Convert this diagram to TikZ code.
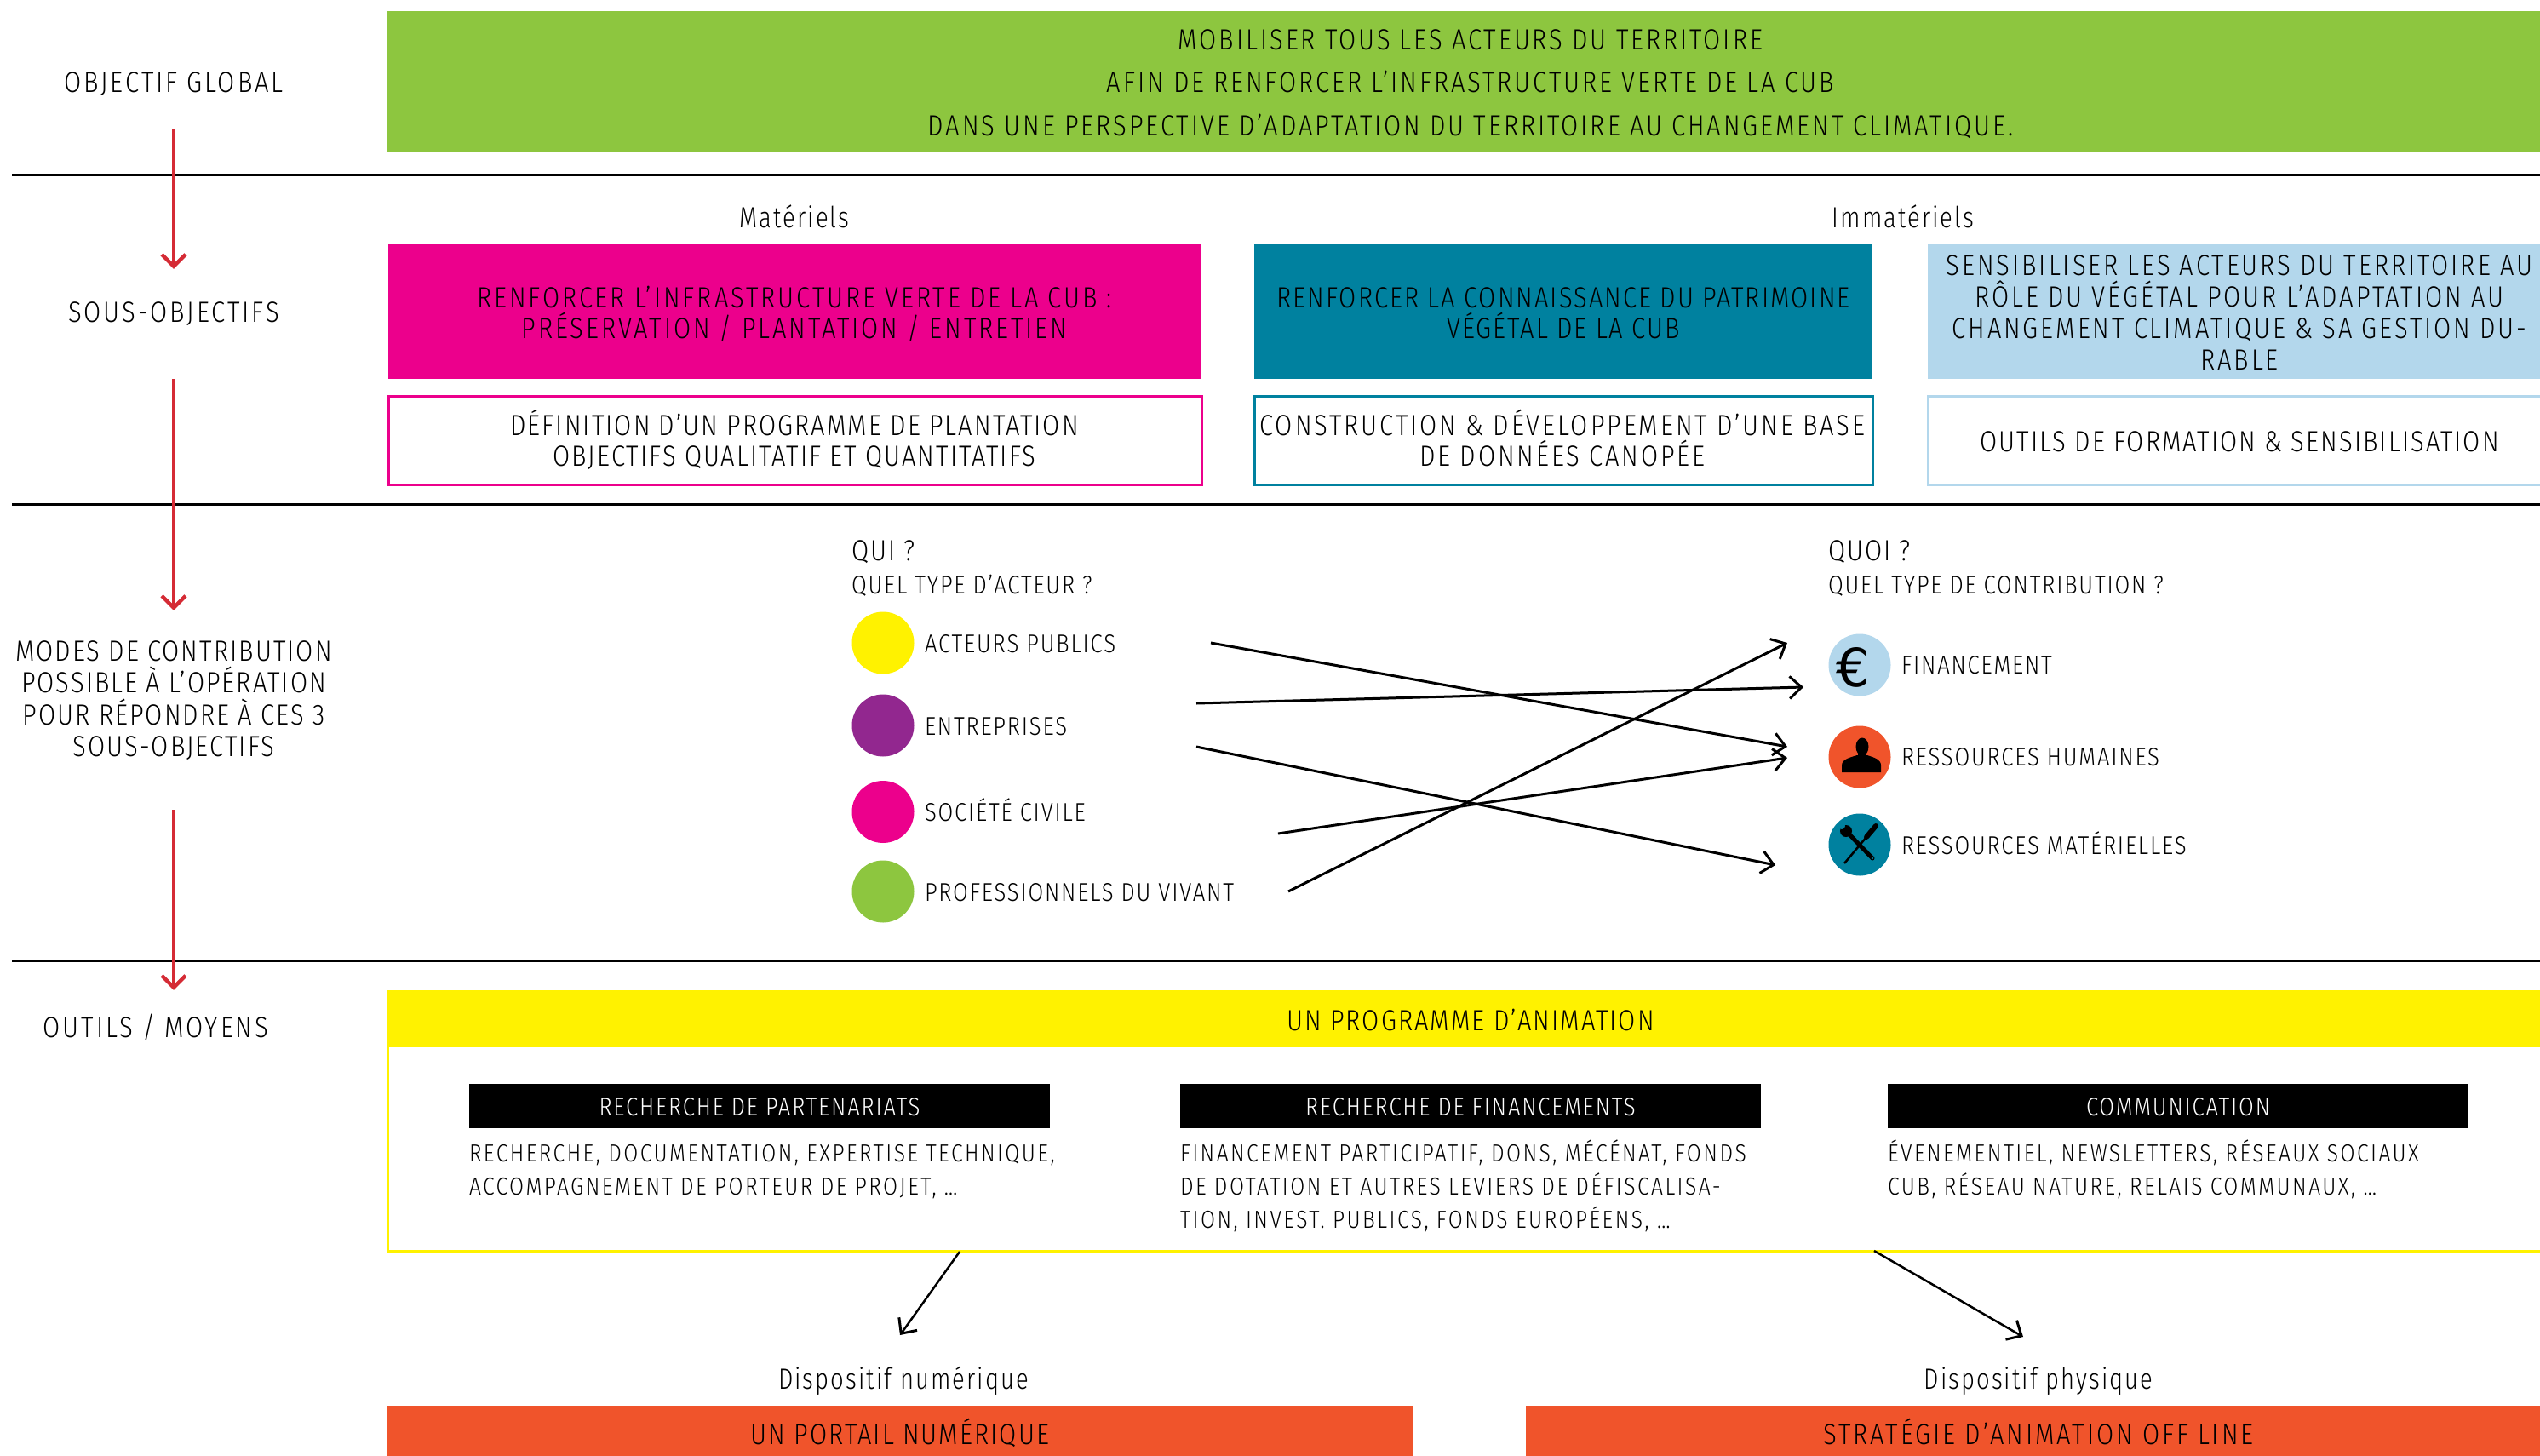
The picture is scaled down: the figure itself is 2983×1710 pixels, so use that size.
\documentclass[tikz,border=0pt]{standalone}
\usepackage{fontspec}
\setmainfont{Fira Sans}[UprightFont=* Light,FakeStretch=0.85,LetterSpace=6]
\newfontfamily\boxfont{Fira Sans}[UprightFont=* Light,FakeStretch=0.85,LetterSpace=8.5]
\newfontfamily\lcfont{Fira Sans}[UprightFont=* Light,FakeStretch=0.8,LetterSpace=6]
\newfontfamily\iconfont{DejaVu Sans}
\usetikzlibrary{arrows.meta}
\definecolor{cgreen}{HTML}{8DC63F}
\definecolor{cpink}{HTML}{EC008C}
\definecolor{cteal}{HTML}{00819F}
\definecolor{clblue}{HTML}{B3D7EC}
\definecolor{cyellow}{HTML}{FFF200}
\definecolor{corange}{HTML}{F0542B}
\definecolor{cpurple}{HTML}{92278F}
\definecolor{cred}{HTML}{D52B35}
\newcommand\mlines[2]{\vtop{\lineskiplimit=-1000pt\lineskip=0pt\baselineskip=#1bp\halign{\hfil##\hfil\cr#2\crcr}}}
\newcommand\llines[2]{\vtop{\lineskiplimit=-1000pt\lineskip=0pt\baselineskip=#1bp\halign{##\hfil\cr#2\crcr}}}
\begin{document}
\begin{tikzpicture}[x=1bp,y=-1bp,
  txt/.style={inner sep=0pt,outer sep=0pt},
  big/.style={font=\fontsize{34.3bp}{40bp}\selectfont},
  bigbox/.style={font=\boxfont\fontsize{34.3bp}{40bp}\selectfont},
  biglc/.style={font=\lcfont\fontsize{34.3bp}{40bp}\selectfont},
  small/.style={font=\fontsize{30.2bp}{36bp}\selectfont},
  tiny/.style={font=\boxfont\fontsize{29bp}{35bp}\selectfont},
  areabox/.style={draw=none,inner sep=0pt,outer sep=0pt,anchor=north west},
  outlinebox/.style={inner sep=0pt,outer sep=0pt,anchor=north west,line width=3bp,fill=white},
  blackbox/.style={areabox,fill=black,minimum width=682bp,minimum height=52bp},
  disc/.style={circle,draw=none,inner sep=0pt,outer sep=0pt,minimum size=73bp},
  sepline/.style={line width=3bp,black},
  redarrow/.style={draw=cred,line width=4bp,-{Straight Barb[length=14bp,width=28bp,line width=4.5bp]}},
  blackarrow/.style={line width=3bp,-{Straight Barb[length=14bp,width=26bp,line width=3bp]}},
]
\path[use as bounding box,fill=white] (0,0) rectangle (2983,1710);

% separator lines
\draw[sepline] (14,205) -- (2983,205);
\draw[sepline] (14,592) -- (2983,592);
\draw[sepline] (14,1128) -- (2983,1128);

% left column labels
\node[txt,bigbox,anchor=base] (objglobal) at (204,108) {OBJECTIF GLOBAL};
\node[txt,bigbox,anchor=base] (sousobj) at (204,378) {SOUS-OBJECTIFS};
\node[txt,big,anchor=base] (modes) at (204,776) {\mlines{37.5}{MODES DE CONTRIBUTION\cr POSSIBLE À L’OPÉRATION\cr POUR RÉPONDRE À CES 3\cr SOUS-OBJECTIFS}};
\node[txt,bigbox,anchor=base] (outils) at (183,1218) {OUTILS / MOYENS};

% red arrows
\coordinate (r1s) at (204,151); \coordinate (r1e) at (204,316);
\coordinate (r2s) at (204,445); \coordinate (r2e) at (204,717);
\coordinate (r3s) at (204,951); \coordinate (r3e) at (204,1163);
\draw[redarrow] (r1s) -- (r1e);
\draw[redarrow] (r2s) -- (r2e);
\draw[redarrow] (r3s) -- (r3e);

% global objective
\node[areabox,fill=cgreen,minimum width=2540bp,minimum height=166bp] (global) at (455,13) {};
\node[txt,bigbox,anchor=base] (globaltxt) at (1727,58) {\mlines{50.5}{MOBILISER TOUS LES ACTEURS DU TERRITOIRE\cr AFIN DE RENFORCER L’INFRASTRUCTURE VERTE DE LA CUB\cr DANS UNE PERSPECTIVE D’ADAPTATION DU TERRITOIRE AU CHANGEMENT CLIMATIQUE.}};

% sub-objectives
\node[txt,biglc,anchor=base] (mat) at (933,267) {Matériels};
\node[txt,biglc,anchor=base] (immat) at (2235,267) {Immatériels};

\node[areabox,fill=cpink,minimum width=955bp,minimum height=158bp] (so1) at (456,287) {};
\node[areabox,fill=cteal,minimum width=726bp,minimum height=158bp] (so2) at (1473,287) {};
\node[areabox,fill=clblue,minimum width=740bp,minimum height=158bp] (so3) at (2264,287) {};
\node[txt,bigbox,anchor=base] (so1t) at (933,361) {\mlines{36.5}{RENFORCER L’INFRASTRUCTURE VERTE DE LA CUB :\cr PRÉSERVATION / PLANTATION / ENTRETIEN}};
\node[txt,big,anchor=base] (so2t) at (1836,361) {\mlines{36.5}{RENFORCER LA CONNAISSANCE DU PATRIMOINE\cr VÉGÉTAL DE LA CUB}};
\node[txt,bigbox,anchor=base] (so3t) at (2630,323) {\mlines{37}{SENSIBILISER LES ACTEURS DU TERRITOIRE AU\cr RÔLE DU VÉGÉTAL POUR L’ADAPTATION AU\cr CHANGEMENT CLIMATIQUE \& SA GESTION DU-\cr RABLE}};

\node[outlinebox,draw=cpink,minimum width=955bp,minimum height=104bp] (ac1) at (456,465) {};
\node[outlinebox,draw=cteal,minimum width=726bp,minimum height=104bp] (ac2) at (1473,465) {};
\node[outlinebox,draw=clblue,minimum width=740bp,minimum height=104bp] (ac3) at (2264,465) {};
\node[txt,big,anchor=base] (ac1t) at (933,511) {\mlines{36}{DÉFINITION D’UN PROGRAMME DE PLANTATION\cr OBJECTIFS QUALITATIF ET QUANTITATIFS}};
\node[txt,bigbox,anchor=base] (ac2t) at (1835,511) {\mlines{36}{CONSTRUCTION \& DÉVELOPPEMENT D’UNE BASE\cr DE DONNÉES CANOPÉE}};
\node[txt,big,anchor=base] (ac3t) at (2630,530) {OUTILS DE FORMATION \& SENSIBILISATION};

% who / what
\node[txt,big,anchor=base west] (qui) at (1000,658) {QUI ?};
\node[txt,small,anchor=base west] (quisub) at (1000,697) {QUEL TYPE D’ACTEUR ?};
\node[txt,big,anchor=base west] (quoi) at (2147,658) {QUOI ?};
\node[txt,small,anchor=base west] (quoisub) at (2147,697) {QUEL TYPE DE CONTRIBUTION ?};

\node[disc,fill=cyellow] (pub) at (1037,755) {};
\node[disc,fill=cpurple] (ent) at (1037,852) {};
\node[disc,fill=cpink] (civ) at (1037,953.5) {};
\node[disc,fill=cgreen] (pro) at (1037,1047) {};
\node[txt,small,anchor=base west] (publ) at (1086,766) {ACTEURS PUBLICS};
\node[txt,small,anchor=base west] (entl) at (1086,863) {ENTREPRISES};
\node[txt,small,anchor=base west] (civl) at (1086,964) {SOCIÉTÉ CIVILE};
\node[txt,small,anchor=base west] (prol) at (1086,1058) {PROFESSIONNELS DU VIVANT};

\node[disc,fill=clblue] (fin) at (2184,781) {};
\node[disc,fill=corange] (rh) at (2184,889) {};
\node[disc,fill=cteal] (rm) at (2184,992) {};
\node[txt,small,anchor=base west] (finl) at (2233,791) {FINANCEMENT};
\node[txt,small,anchor=base west] (rhl) at (2233,899) {RESSOURCES HUMAINES};
\node[txt,small,anchor=base west] (rml) at (2233,1003) {RESSOURCES MATÉRIELLES};

% icons
\node[txt,font=\iconfont\fontsize{62bp}{62bp}\selectfont] (euro) at (2176,784) {€};
\fill (2187,877) ellipse [x radius=7.5bp,y radius=10.5bp];
\fill (2182,882) rectangle (2192,890);
\fill (2163,907) -- (2163,899) .. controls (2163,892) and (2171,890) .. (2181,887) -- (2193,887) .. controls (2202,890) and (2209,892) .. (2209,899) -- (2209,907) -- cycle;
\draw[line width=5bp,line cap=round] (2170,978) -- (2199,1008);
\fill (2168,976) circle (7bp);
\fill[cteal] (2163,970) circle (4bp);
\fill[cteal] (2199,1008) circle (1.3bp);
\draw[line width=6bp,line cap=round] (2203,970) -- (2192,983);
\draw[line width=2.5bp] (2192,983) -- (2166,1014);

% crossing arrows
\coordinate (a1s) at (1422,755); \coordinate (a1e) at (2099,877);
\coordinate (a2s) at (1405,826); \coordinate (a2e) at (2118,807);
\coordinate (a3s) at (1405,877); \coordinate (a3e) at (2085,1016);
\coordinate (a4s) at (1501,979); \coordinate (a4e) at (2099,890);
\coordinate (a5s) at (1513,1047); \coordinate (a5e) at (2099,755);
\draw[blackarrow] (a1s) -- (a1e);
\draw[blackarrow] (a2s) -- (a2e);
\draw[blackarrow] (a3s) -- (a3e);
\draw[blackarrow] (a4s) -- (a4e);
\draw[blackarrow] (a5s) .. controls (1535,1036) .. (a5e);

% tools / means
\node[outlinebox,draw=cyellow,minimum width=2545bp,minimum height=305bp] (prog) at (455,1164) {};
\node[areabox,fill=cyellow,minimum width=2545bp,minimum height=66bp] (proghead) at (455,1164) {};
\node[txt,big,anchor=base] (progt) at (1727,1210) {UN PROGRAMME D’ANIMATION};

\node[blackbox] (bb1) at (551,1273) {};
\node[blackbox] (bb2) at (1386,1273) {};
\node[blackbox] (bb3) at (2217,1273) {};
\node[txt,small,text=white,anchor=base] (bb1t) at (892,1310) {RECHERCHE DE PARTENARIATS};
\node[txt,small,text=white,anchor=base] (bb2t) at (1727,1310) {RECHERCHE DE FINANCEMENTS};
\node[txt,small,text=white,anchor=base] (bb3t) at (2558,1310) {COMMUNICATION};

\node[txt,tiny,anchor=base west] (c1t) at (551,1364) {\llines{39}{RECHERCHE, DOCUMENTATION, EXPERTISE TECHNIQUE,\cr ACCOMPAGNEMENT DE PORTEUR DE PROJET, …}};
\node[txt,tiny,anchor=base west] (c2t) at (1386,1364) {\llines{39}{FINANCEMENT PARTICIPATIF, DONS, MÉCÉNAT, FONDS\cr DE DOTATION ET AUTRES LEVIERS DE DÉFISCALISA-\cr TION, INVEST. PUBLICS, FONDS EUROPÉENS, …}};
\node[txt,tiny,anchor=base west] (c3t) at (2217,1364) {\llines{39}{ÉVENEMENTIEL, NEWSLETTERS, RÉSEAUX SOCIAUX\cr CUB, RÉSEAU NATURE, RELAIS COMMUNAUX, …}};

\coordinate (b1s) at (1127,1470); \coordinate (b1e) at (1057,1568);
\coordinate (b2s) at (2201,1469); \coordinate (b2e) at (2376,1570);
\draw[blackarrow,line width=2.5bp] (b1s) -- (b1e);
\draw[blackarrow,line width=2.5bp] (b2s) -- (b2e);

\node[txt,biglc,anchor=base] (dnum) at (1061,1631) {Dispositif numérique};
\node[txt,biglc,anchor=base] (dphy) at (2394,1631) {Dispositif physique};

\node[areabox,fill=corange,minimum width=1206bp,minimum height=70bp] (portail) at (454,1651) {};
\node[areabox,fill=corange,minimum width=1200bp,minimum height=70bp] (offline) at (1792,1651) {};
\node[txt,big,anchor=base] (portailt) at (1057,1696) {UN PORTAIL NUMÉRIQUE};
\node[txt,bigbox,anchor=base] (offlinet) at (2394,1696) {STRATÉGIE D’ANIMATION OFF LINE};
\end{tikzpicture}
\end{document}
